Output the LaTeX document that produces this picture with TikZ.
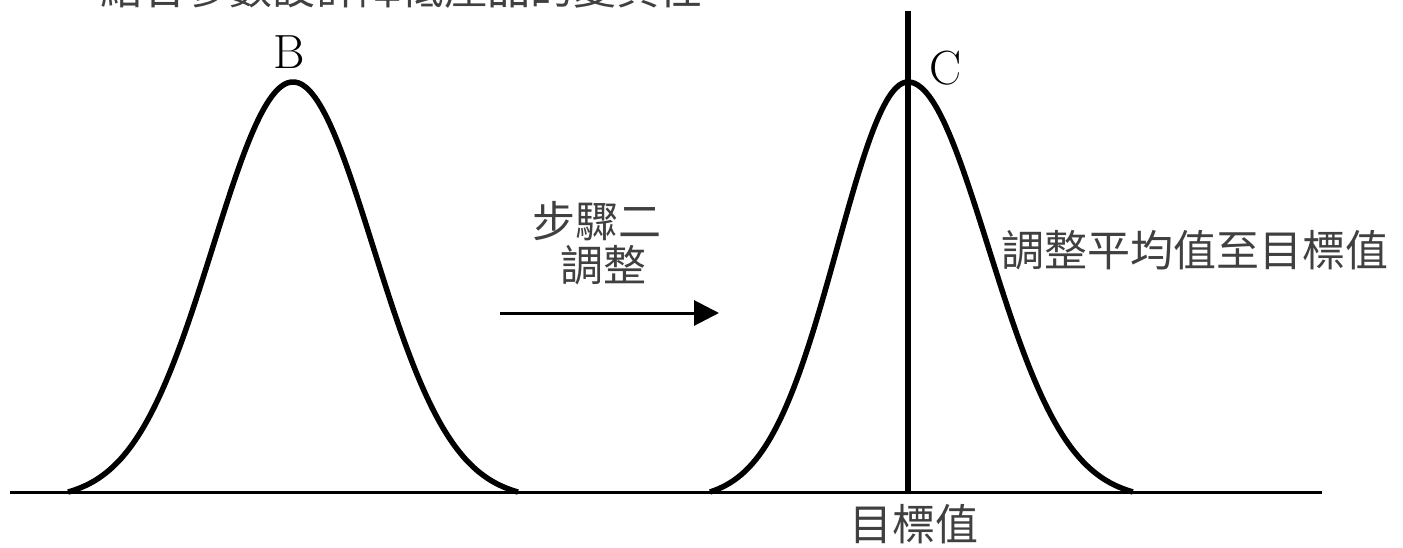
\documentclass[tikz,border=0pt]{standalone}
\usepackage{fontspec}
\newfontfamily\cjk{Noto Sans CJK TC}
\usetikzlibrary{arrows.meta}
\tikzset{
  bell/.style={line width=5.5pt, line join=round},
  axisline/.style={line width=3pt},
  cjktext/.style={font=\cjk\fontsize{43}{46}\selectfont, text=black!75, inner sep=0pt},
  letter/.style={font=\fontsize{48}{50}\selectfont, inner sep=0pt},
  steparrow/.style={line width=3pt, -{Triangle[length=25pt,width=25pt]}}
}
\begin{document}
\begin{tikzpicture}[x=1pt,y=-1pt]
\useasboundingbox (0,0) rectangle (1403,548);
% top text (cut off at the top edge, as in the reference)
\node[cjktext, anchor=base west] (top) at (100,5) {結合參數設計降低產品的變異性};
% axis
\coordinate (axL) at (10,492);
\coordinate (axR) at (1322,492);
\draw[axisline] (axL) -- (axR);
% left bell B
\draw[bell] plot[domain=-225:225, samples=120, smooth] ({293+\x},{492-418*(exp(-0.5*(\x/80)^2)-0.0192)});
% right bell C (left half slightly narrower)
\draw[bell] plot[domain=-1:0, samples=70, smooth] ({908+198*\x},{492-418*(exp(-0.5*(\x*2.81)^2)-0.0192)})
  -- plot[domain=0:1, samples=70, smooth] ({908+225*\x},{492-418*(exp(-0.5*(\x*2.81)^2)-0.0192)});
% target line
\coordinate (vtop) at (908,11);
\coordinate (vbot) at (908,494);
\draw[line width=5.5pt] (vtop) -- (vbot);
% labels
\node[letter] (B) at (289,52) {B};
\node[letter] (C) at (946,68) {C};
\node[cjktext] (s1) at (597,221) {步驟二};
\node[cjktext] (s2) at (603,265) {調整};
\coordinate (aS) at (500,313);
\coordinate (aE) at (719,313);
\draw[steparrow] (aS) -- (aE);
\node[cjktext, anchor=west] (adj) at (1001,250) {調整平均值至目標值};
\node[cjktext] (tgt) at (914,524) {目標值};
\end{tikzpicture}
\end{document}
